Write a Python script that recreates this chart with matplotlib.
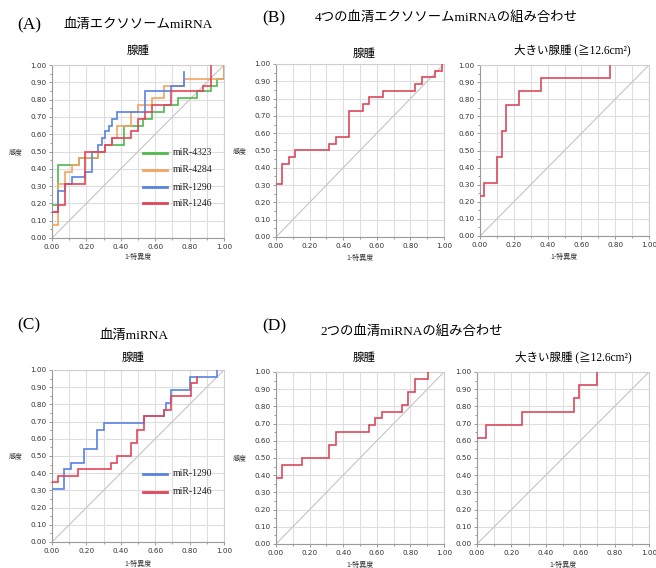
import matplotlib
matplotlib.use("Agg")
import matplotlib.pyplot as plt
from matplotlib.ticker import MultipleLocator, FormatStrFormatter

W, H = 656, 568

# ---- ROC step data: each point opens a horizontal segment at (fpr, tpr) ----
# (A) serum exosomal miRNA, adenoma
a_4323_fpr = [0.0, 0.035, 0.155, 0.27, 0.31, 0.42, 0.53, 0.58, 0.65, 0.73, 0.845, 0.925, 0.96, 1.0]
a_4323_tpr = [0.19, 0.42, 0.46, 0.50, 0.54, 0.65, 0.69, 0.73, 0.77, 0.81, 0.85, 0.88, 0.92, 1.0]
a_4284_fpr = [0.0, 0.035, 0.077, 0.115, 0.155, 0.27, 0.31, 0.35, 0.38, 0.46, 0.50, 0.58, 0.65, 0.77, 1.0]
a_4284_tpr = [0.077, 0.31, 0.38, 0.42, 0.46, 0.50, 0.54, 0.58, 0.65, 0.73, 0.77, 0.81, 0.88, 0.92, 1.0]
a_1290_fpr = [0.0, 0.035, 0.077, 0.115, 0.19, 0.23, 0.27, 0.29, 0.31, 0.33, 0.35, 0.38, 0.54, 0.69, 0.77]
a_1290_tpr = [0.15, 0.27, 0.31, 0.35, 0.38, 0.50, 0.54, 0.58, 0.62, 0.65, 0.69, 0.73, 0.85, 0.88, 0.96]
a_1246_fpr = [0.0, 0.035, 0.077, 0.19, 0.31, 0.35, 0.46, 0.50, 0.54, 0.58, 0.69, 0.88, 0.925]
a_1246_tpr = [0.15, 0.19, 0.31, 0.50, 0.54, 0.58, 0.62, 0.69, 0.73, 0.77, 0.85, 0.88, 1.0]

# (B) combination of 4 serum exosomal miRNAs
b_ad_fpr = [0.0, 0.036, 0.075, 0.115, 0.313, 0.356, 0.436, 0.515, 0.554, 0.636, 0.828, 0.867, 0.946, 0.986]
b_ad_tpr = [0.308, 0.423, 0.462, 0.50, 0.538, 0.577, 0.731, 0.769, 0.808, 0.846, 0.885, 0.923, 0.962, 1.0]
b_lg_fpr = [0.0, 0.026, 0.103, 0.128, 0.154, 0.231, 0.359, 0.769]
b_lg_tpr = [0.231, 0.308, 0.462, 0.615, 0.769, 0.846, 0.923, 1.0]

# (C) serum miRNA, adenoma
c_1290_fpr = [0.0, 0.072, 0.11, 0.188, 0.26, 0.30, 0.536, 0.652, 0.665, 0.69, 0.80, 0.96]
c_1290_tpr = [0.308, 0.423, 0.462, 0.538, 0.654, 0.692, 0.731, 0.769, 0.808, 0.885, 0.962, 1.0]
c_1246_fpr = [0.0, 0.035, 0.149, 0.342, 0.38, 0.458, 0.497, 0.536, 0.652, 0.69, 0.807, 0.845]
c_1246_tpr = [0.346, 0.385, 0.423, 0.462, 0.50, 0.577, 0.654, 0.731, 0.769, 0.846, 0.923, 0.962]

# (D) combination of 2 serum miRNAs
d_ad_fpr = [0.0, 0.036, 0.154, 0.313, 0.356, 0.554, 0.59, 0.63, 0.748, 0.788, 0.828, 0.907]
d_ad_tpr = [0.385, 0.462, 0.50, 0.577, 0.654, 0.692, 0.731, 0.769, 0.808, 0.885, 0.962, 1.0]
d_lg_fpr = [0.0, 0.05, 0.26, 0.565, 0.592, 0.697]
d_lg_tpr = [0.615, 0.692, 0.769, 0.846, 0.923, 1.0]

# ---- text ----
panel_letters = ["(A)", "(B)", "(C)", "(D)"]
panel_titles = ["血清エクソソームmiRNA", "4つの血清エクソソームmiRNAの組み合わせ",
                "血清miRNA", "2つの血清miRNAの組み合わせ"]
sub_adenoma = "腺腫"
sub_large = "大きい腺腫 (≧12.6cm²)"
y_label = "感度"
x_label = "1-特異度"

GREEN = "#4fb84f"
ORANGE = "#f2a462"
BLUE = "#5882e2"
RED = "#e0465a"
RED2 = "#d94a5e"

CJK = ["Noto Sans CJK JP", "DejaVu Sans"]
MIX = ["Liberation Serif", "Noto Sans CJK JP"]

fig = plt.figure(figsize=(W / 100, H / 100), dpi=100)
fig.patch.set_facecolor("white")


def px(x, y):
    return x / W, 1 - y / H


def make_axes(x0, y0, x1, y1):
    ax = fig.add_axes([x0 / W, 1 - y1 / H, (x1 - x0) / W, (y1 - y0) / H])
    ax.set_xlim(0, 1)
    ax.set_ylim(0, 1)
    ax.xaxis.set_major_locator(MultipleLocator(0.2))
    ax.xaxis.set_minor_locator(MultipleLocator(0.1))
    ax.yaxis.set_major_locator(MultipleLocator(0.1))
    ax.yaxis.set_minor_locator(MultipleLocator(0.05))
    ax.xaxis.set_major_formatter(FormatStrFormatter("%.2f"))
    ax.yaxis.set_major_formatter(FormatStrFormatter("%.2f"))
    ax.grid(True, which="major", color="#dedede", lw=0.8)
    ax.grid(True, which="minor", axis="x", color="#dedede", lw=0.8)
    ax.set_axisbelow(True)
    ax.tick_params(which="both", direction="out", colors="#888888", labelcolor="#333333",
                   labelsize=5.2, width=0.6)
    ax.tick_params(which="major", length=2.5, pad=1.5)
    ax.tick_params(which="minor", length=1.5)
    for lbl in ax.get_xticklabels() + ax.get_yticklabels():
        lbl.set_family("DejaVu Sans")
    for s in ["top", "right"]:
        ax.spines[s].set_color("#cfcfcf")
    for s in ["left", "bottom"]:
        ax.spines[s].set_color("#9a9a9a")
    for s in ax.spines.values():
        s.set_linewidth(0.8)
    ax.plot([0, 1], [0, 1], color="#c4c4c4", lw=0.8, zorder=1)
    return ax


def roc(ax, fpr, tpr, color, label=None):
    ax.step(fpr, tpr, where="post", color=color, lw=1.2, label=label, zorder=3,
            solid_joinstyle="miter")


def axis_texts(x0, x1, xlab_y, ylab_x=None, ylab_y=None):
    if ylab_x is not None:
        fig.text(*px(ylab_x, ylab_y), y_label, family=CJK, fontsize=5, ha="left",
                 va="center", color="#333333")
    fig.text(*px((x0 + x1) / 2, xlab_y), x_label, family=CJK, fontsize=5, ha="center",
             va="center", color="#333333")


def legend_rows(rows, labels, colors):
    for (yy, lab, col) in zip(rows, labels, colors):
        fig.lines.append(plt.Line2D([143 / W, 167 / W], [1 - yy / H, 1 - yy / H],
                                    color=col, lw=2.0, transform=fig.transFigure))
        fig.text(*px(173, yy), lab, family=MIX, fontsize=7, ha="left", va="center",
                 color="#222222")


# ---- panel (A) ----
axA = make_axes(52, 65, 224, 238)
roc(axA, a_4323_fpr, a_4323_tpr, GREEN)
roc(axA, a_4284_fpr, a_4284_tpr, ORANGE)
roc(axA, a_1290_fpr, a_1290_tpr, BLUE)
roc(axA, a_1246_fpr, a_1246_tpr, RED)
legend_rows([153, 170, 187, 203], ["miR-4323", "miR-4284", "miR-1290", "miR-1246"],
            [GREEN, ORANGE, BLUE, RED])
axis_texts(52, 224, 257, 9, 152)
fig.text(*px(138, 50), sub_adenoma, family=CJK, fontsize=8.3, ha="center", va="center")

# ---- panel (B) ----
axB1 = make_axes(276, 64, 444, 237)
roc(axB1, b_ad_fpr, b_ad_tpr, RED2)
axis_texts(276, 444, 258, 233, 151)
fig.text(*px(364, 53), sub_adenoma, family=CJK, fontsize=8.3, ha="center", va="center")

axB2 = make_axes(480, 65, 649, 236)
roc(axB2, b_lg_fpr, b_lg_tpr, RED2)
axis_texts(480, 649, 257)
fig.text(*px(572, 50), sub_large, family=MIX, fontsize=8.3, ha="center", va="center")

# ---- panel (C) ----
axC = make_axes(52, 370, 224, 542)
roc(axC, c_1290_fpr, c_1290_tpr, BLUE)
roc(axC, c_1246_fpr, c_1246_tpr, RED)
legend_rows([474, 492], ["miR-1290", "miR-1246"], [BLUE, RED])
axis_texts(52, 224, 564, 9, 456)
fig.text(*px(133, 357), sub_adenoma, family=CJK, fontsize=8.3, ha="center", va="center")

# ---- panel (D) ----
axD1 = make_axes(276, 372, 444, 544)
roc(axD1, d_ad_fpr, d_ad_tpr, RED2)
axis_texts(276, 444, 565, 233, 458)
fig.text(*px(364, 357), sub_adenoma, family=CJK, fontsize=8.3, ha="center", va="center")

axD2 = make_axes(477, 372, 649, 544)
roc(axD2, d_lg_fpr, d_lg_tpr, RED2)
axis_texts(477, 649, 565)
fig.text(*px(573, 357), sub_large, family=MIX, fontsize=8.3, ha="center", va="center")

# ---- panel headings ----
letter_pos = [(17, 25), (262, 18), (17, 325), (262, 326)]
title_pos = [(63, 25), (315, 18), (100, 336), (320, 332)]
for letter, (lx, ly) in zip(panel_letters, letter_pos):
    fig.text(*px(lx, ly), letter, family="Liberation Serif", fontsize=12.5,
             ha="left", va="center")
for title, (tx, ty) in zip(panel_titles, title_pos):
    fig.text(*px(tx, ty), title, family=MIX, fontsize=9.6, ha="left", va="center")

fig.savefig("out.png", dpi=100, facecolor="white")
